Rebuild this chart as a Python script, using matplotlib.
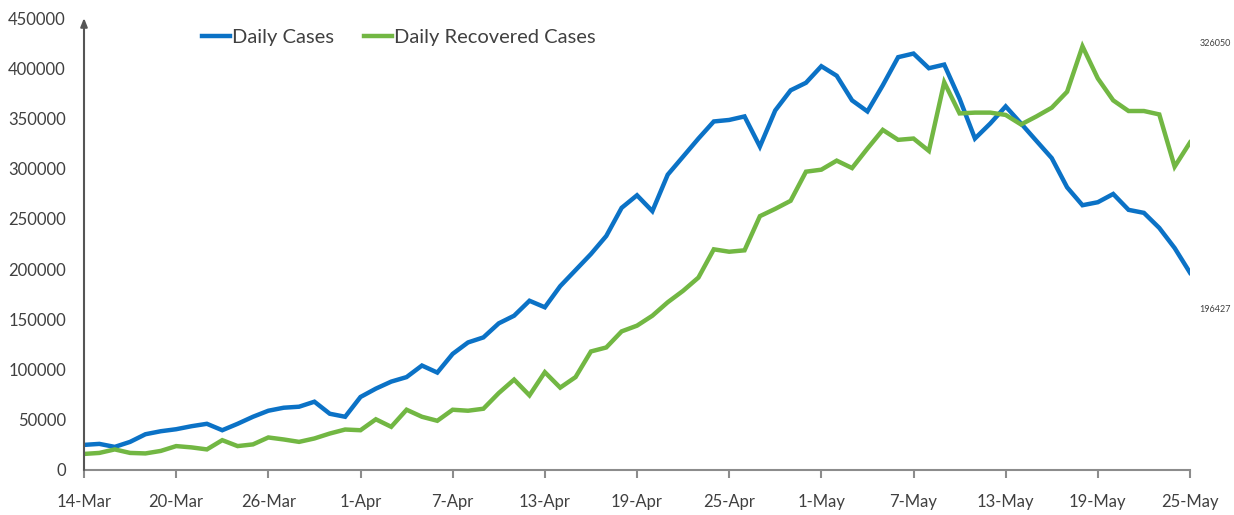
import matplotlib
matplotlib.use("Agg")
import matplotlib.pyplot as plt
import pandas as pd

plt.rcParams['font.family'] = ['Lato', 'DejaVu Sans']

start_date = "2020-03-14"
end_date = "2020-05-25"

daily_cases = [
    25000, 26000, 23000, 28000, 35600, 38600, 40600, 43600, 46000, 39600,
    46000, 53000, 59000, 62000, 63000, 68000, 56000, 53000, 72700, 81000,
    88000, 92500, 104000, 97000, 115600, 127000, 132000, 146000, 153600, 168500,
    162000, 183000, 199000, 215000, 233000, 261000, 273500, 257700, 294000, 312000,
    330000, 347000, 348500, 352000, 322000, 358000, 378000, 385500, 402000, 392500,
    368000, 357000, 383000, 411000, 414600, 400000, 403600, 369600, 330000, 345000,
    362000, 345000, 327700, 310500, 281400, 263600, 266600, 274800, 259000, 256000,
    241000, 221000, 196427,
]

daily_recovered = [
    16000, 17000, 20500, 17000, 16500, 19000, 23800, 22500, 20500, 29700,
    23800, 25500, 32400, 30400, 28000, 31400, 36300, 40300, 39600, 50500,
    43000, 60000, 53000, 49000, 60000, 59000, 61000, 76600, 90000, 74300,
    97400, 82000, 92500, 118000, 122000, 138000, 143700, 153600, 167000, 178400,
    191600, 219700, 217300, 218700, 252700, 260000, 268000, 297000, 299000, 308000,
    300600, 320000, 338600, 328700, 330000, 317700, 386000, 355000, 355800, 355800,
    353500, 344000, 352000, 360700, 376600, 421800, 389800, 368000, 357400, 357400,
    354000, 302000, 326050,
]

tick_labels = ["14-Mar", "20-Mar", "26-Mar", "1-Apr", "7-Apr", "13-Apr",
               "19-Apr", "25-Apr", "1-May", "7-May", "13-May", "19-May", "25-May"]
y_ticks = [0, 50000, 100000, 150000, 200000, 250000, 300000, 350000, 400000, 450000]

series_names = ["Daily Cases", "Daily Recovered Cases"]
series_colors = ["#0B72C6", "#72B743"]

dates = pd.date_range(start_date, end_date, freq="D")
tick_dates = [pd.to_datetime(t + "-2020", format="%d-%b-%Y") for t in tick_labels]

fig = plt.figure(figsize=(12.34, 5.15), dpi=100)
ax = fig.add_axes([84 / 1234, 45 / 515, (1190 - 84) / 1234, (470 - 18) / 515])

ax.plot(dates, daily_cases, color=series_colors[0], lw=3.2, label=series_names[0],
        solid_joinstyle="miter")
ax.plot(dates, daily_recovered, color=series_colors[1], lw=3.2, label=series_names[1],
        solid_joinstyle="miter")

ax.set_xlim(dates[0], dates[-1])
ax.set_ylim(0, 450000)

ax.set_xticks(tick_dates)
ax.set_xticklabels(tick_labels)
ax.set_yticks(y_ticks)
ax.set_yticklabels([str(v) for v in y_ticks])

for s in ["top", "right", "left"]:
    ax.spines[s].set_visible(False)
ax.spines["bottom"].set_color("#8C8C8C")
ax.spines["bottom"].set_linewidth(1.5)

ax.annotate("", xy=(0, 1.0), xytext=(0, 0), xycoords="axes fraction",
            arrowprops=dict(arrowstyle="-|>,head_length=0.5,head_width=0.2",
                            color="#555555", lw=1.5, shrinkA=0, shrinkB=0))

ax.tick_params(axis="x", direction="out", length=6, width=1.5, color="#8C8C8C",
               pad=11, labelsize=12, labelcolor="#404040")
ax.tick_params(axis="y", length=0, pad=13, labelsize=12, labelcolor="#404040")

ax.text(1.0226, 0.9425, str(daily_recovered[-1]),
        transform=ax.transAxes, fontsize=6.5, color="#404040", ha="center", va="center")
ax.text(1.0226, 0.354, str(daily_cases[-1]),
        transform=ax.transAxes, fontsize=6.5, color="#404040", ha="center", va="center")

leg = fig.legend(loc="center left", bbox_to_anchor=(184 / 1234, 1 - 37 / 515),
                 ncol=2, frameon=False, fontsize=14.5, handlelength=1.4,
                 handletextpad=0.1, columnspacing=1.45, labelcolor="#404040")

fig.savefig("out.png", dpi=100)
